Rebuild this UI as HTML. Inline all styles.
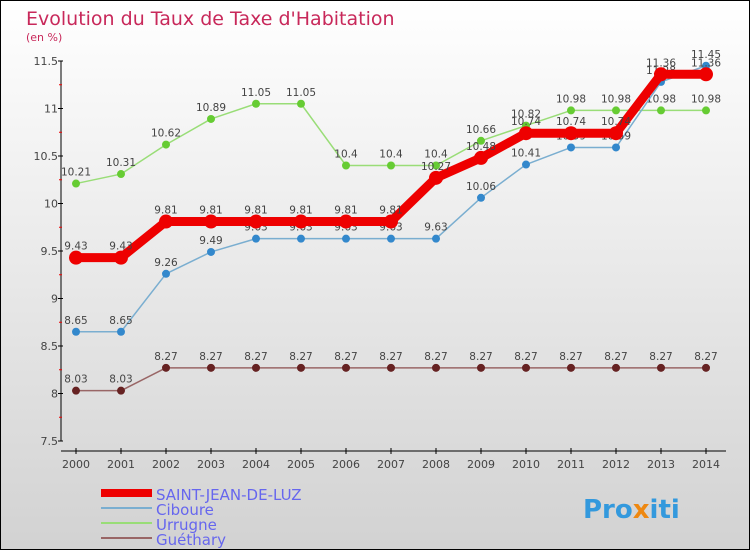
<!DOCTYPE html>
<html><head><meta charset="utf-8"><style>
body{margin:0}
#c{width:748px;height:548px;border:1px solid #000;background:linear-gradient(#fff,#d2d2d2);position:relative;font-family:"DejaVu Sans","Liberation Sans",sans-serif}
text{font-family:"DejaVu Sans","Liberation Sans",sans-serif}
</style></head><body>
<div id="c">
<svg id="s" width="748" height="548">
<text x="25" y="24" font-size="19" fill="#c8285a">Evolution du Taux de Taxe d'Habitation</text>
<text x="25" y="40" font-size="11" fill="#c8285a">(en %)</text>
<g id="g"></g>
<g>
<rect x="100" y="488" width="51" height="8" fill="#e00"/>
<text x="155" y="499" font-size="15" fill="#6666ee">SAINT-JEAN-DE-LUZ</text>
<rect x="100" y="506" width="51" height="2" fill="#7aaed0"/>
<text x="155" y="514" font-size="15" fill="#6666ee">Ciboure</text>
<rect x="100" y="521" width="51" height="2" fill="#99dd77"/>
<text x="155" y="529" font-size="15" fill="#6666ee">Urrugne</text>
<rect x="100" y="536" width="51" height="2" fill="#996666"/>
<text x="155" y="544" font-size="15" fill="#6666ee">Guéthary</text>
</g>
<text x="582" y="517" font-size="26" font-weight="bold" fill="#3399dd">Pro<tspan fill="#ee8811">x</tspan>iti</text>
</svg></div>
<script>
const years=[2000,2001,2002,2003,2004,2005,2006,2007,2008,2009,2010,2011,2012,2013,2014];
const sjl=[9.43,9.43,9.81,9.81,9.81,9.81,9.81,9.81,10.27,10.48,10.74,10.74,10.74,11.36,11.36];
const ciboure=[8.65,8.65,9.26,9.49,9.63,9.63,9.63,9.63,9.63,10.06,10.41,10.59,10.59,11.28,11.45];
const urrugne=[10.21,10.31,10.62,10.89,11.05,11.05,10.4,10.4,10.4,10.66,10.82,10.98,10.98,10.98,10.98];
const guethary=[8.03,8.03,8.27,8.27,8.27,8.27,8.27,8.27,8.27,8.27,8.27,8.27,8.27,8.27,8.27];
const yTicks=[7.5,8,8.5,9,9.5,10,10.5,11,11.5];
const NS="http://www.w3.org/2000/svg";
const g=document.getElementById('g');
const X=i=>75+i*45;
const Y=v=>440-(v-7.5)*95;
function mk(t,a,p){const e=document.createElementNS(NS,t);for(const k in a)e.setAttribute(k,a[k]);(p||g).appendChild(e);return e;}
let ax=mk('line',{x1:60,y1:60,x2:60,y2:440,stroke:'#000','stroke-width':1});


let bx=mk('line',{x1:60,y1:450,x2:725,y2:450,stroke:'#000','stroke-width':1});


yTicks.forEach((v,i)=>{
 mk('line',{x1:57,y1:Y(v),x2:62,y2:Y(v),stroke:'#000'});
 if(i<yTicks.length-1) mk('line',{x1:58,y1:Y(v+0.25),x2:61,y2:Y(v+0.25),stroke:'#e00'});
 let t=mk('text',{x:57,y:Y(v)+4,'font-size':11,fill:'#444','text-anchor':'end'});t.textContent=v;
 
 
});
years.forEach((y,i)=>{
 mk('line',{x1:X(i),y1:447,x2:X(i),y2:453,stroke:'#000'});
 let t=mk('text',{x:X(i),y:467,'font-size':11,fill:'#444','text-anchor':'middle'});t.textContent=y;
 
 
});
function series(d,name,col,w,r,dot){
 let pl=mk('polyline',{points:d.map((v,i)=>X(i)+','+Y(v)).join(' '),fill:'none',stroke:col,'stroke-width':w,'stroke-linejoin':'round'});
 
 
 d.forEach((v,i)=>{
  let c=mk('circle',{cx:X(i),cy:Y(v),r:r,fill:dot});
  
  
  let t=mk('text',{x:X(i),y:Y(v)-8,'font-size':10.5,fill:'#444','text-anchor':'middle'});t.textContent=v;
  
  
 });
}
series(guethary,'guethary','#996666',1.5,4,'#662222');
series(urrugne,'urrugne','#99dd77',1.5,4,'#66cc33');
series(ciboure,'ciboure','#7aaed0',1.5,4,'#3388cc');
series(sjl,'saint-jean-de-luz','#ee0000',9,7,'#ee0000');
</script>
</body></html>
